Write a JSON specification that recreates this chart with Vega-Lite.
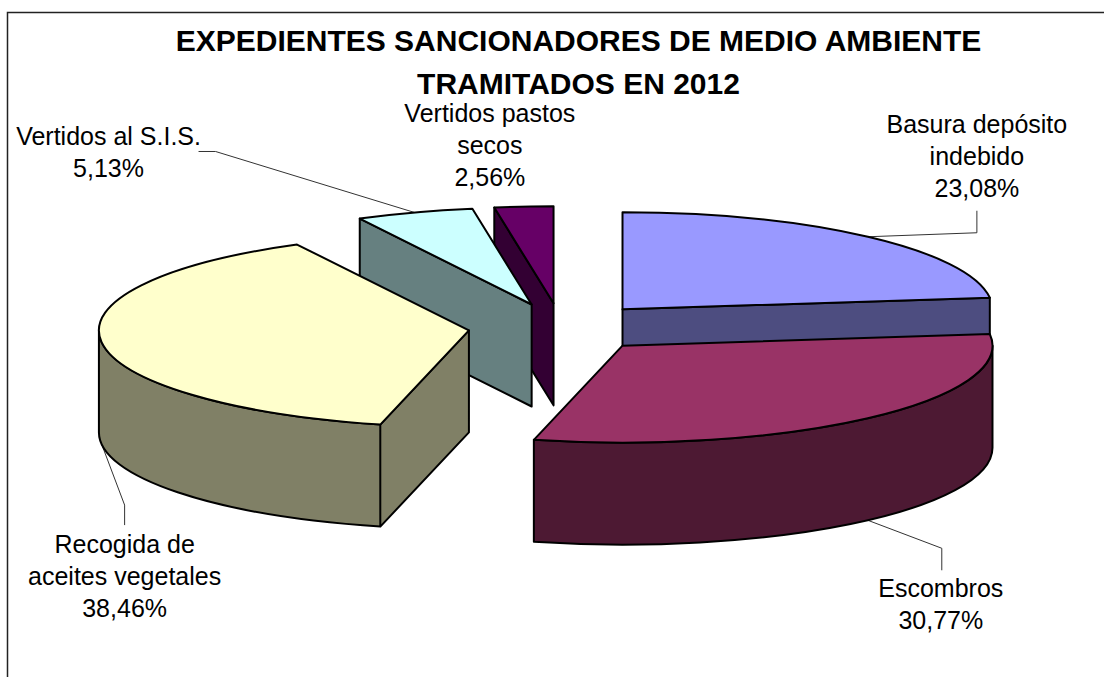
{
"$schema":"https://vega.github.io/schema/vega-lite/v6.json",
"autosize":{"type":"none"},
"padding":{"left":7.5,"top":12.5,"right":0,"bottom":0},
"width":1110,"height":680,
"background":"white",
"config":{"view":{"stroke":"#222222","strokeWidth":1.5,"fill":"white"},"font":"Liberation Sans"},
"title":{"text":["EXPEDIENTES SANCIONADORES DE MEDIO AMBIENTE","TRAMITADOS EN 2012"],"font":"Liberation Sans","fontSize":30,"fontWeight":"bold","color":"#000000","lineHeight":43,"anchor":"middle","frame":"group","dx":16,"dy":121,"baseline":"bottom"},
"data":{"values":[
{"category":"Basura depósito indebido","label":"Basura depósito\nindebido","value":23.08},
{"category":"Escombros","label":"Escombros","value":30.77},
{"category":"Recogida de aceites vegetales","label":"Recogida de\naceites vegetales","value":38.46},
{"category":"Vertidos al S.I.S.","label":"Vertidos al S.I.S.","value":5.13},
{"category":"Vertidos pastos secos","label":"Vertidos pastos\nsecos","value":2.56}
]},
"transform":[
{"joinaggregate":[{"op":"sum","field":"value","as":"total"}]},
{"stack":"value","groupby":[],"as":["s0","s1"]},
{"calculate":"datum.s0/datum.total*2*PI","as":"a"},
{"calculate":"datum.s1/datum.total*2*PI","as":"b"},
{"calculate":"(datum.a+datum.b)/2","as":"m"},
{"calculate":"round((-1.5+92.75*sin(datum.m))*100)/100","as":"ax"},
{"calculate":"round((-25-24.25*cos(datum.m))*100)/100","as":"ay"},
{"calculate":"round((datum.ax+370*sin(datum.a))*100)/100","as":"x0"},
{"calculate":"round((datum.ay-97*cos(datum.a))*100)/100","as":"y0"},
{"calculate":"round((datum.ax+370*sin(datum.b))*100)/100","as":"x1"},
{"calculate":"round((datum.ay-97*cos(datum.b))*100)/100","as":"y1"},
{"calculate":"max(datum.a,PI/2)","as":"t1"},
{"calculate":"min(datum.b,3*PI/2)","as":"t2"},
{"calculate":"round((datum.ax+370*sin(datum.t1))*100)/100","as":"x2"},
{"calculate":"round((datum.ay-97*cos(datum.t1))*100)/100","as":"y2"},
{"calculate":"round((datum.ax+370*sin(datum.t2))*100)/100","as":"x3"},
{"calculate":"round((datum.ay-97*cos(datum.t2))*100)/100","as":"y3"},
{"calculate":"'M'+datum.ax+','+datum.ay+'L'+datum.x0+','+datum.y0+'A370,97 0 '+(datum.b-datum.a>PI?1:0)+' 1 '+datum.x1+','+datum.y1+'Z'","as":"topPath"},
{"calculate":"(datum.t2>datum.t1?'M'+datum.x2+','+datum.y2+'A370,97 0 0 1 '+datum.x3+','+datum.y3+'L'+datum.x3+','+(datum.y3+102)+'A370,97 0 0 0 '+datum.x2+','+(datum.y2+102)+'Z':'')+(sin(datum.a)<-0.001?'M'+datum.ax+','+datum.ay+'L'+datum.x0+','+datum.y0+'L'+datum.x0+','+(datum.y0+102)+'L'+datum.ax+','+(datum.ay+102)+'Z':'')+(sin(datum.b)>0.001?'M'+datum.ax+','+datum.ay+'L'+datum.x1+','+datum.y1+'L'+datum.x1+','+(datum.y1+102)+'L'+datum.ax+','+(datum.ay+102)+'Z':'')","as":"wallPath"},
{"calculate":"{'Basura depósito indebido':2,'Escombros':4,'Recogida de aceites vegetales':3,'Vertidos al S.I.S.':1,'Vertidos pastos secos':0}[datum.category]","as":"draw"},
{"calculate":"{'Basura depósito indebido':[0,109,-4,109,-26,109,-112],'Escombros':[102,74,28,74,50,73,69],'Recogida de aceites vegetales':[102,23,61,23,81,23,101],'Vertidos al S.I.S.':[0,-199,-61,-216,-61,-306,-75],'Vertidos pastos secos':[0,0,0,0,0,-34,-93]}[datum.category]","as":"nudge"},
{"calculate":"round((datum.ax+370*sin(datum.m))*100)/100","as":"rx"},
{"calculate":"round((datum.ay-97*cos(datum.m)+datum.nudge[0])*100)/100","as":"ry"},
{"calculate":"'M'+datum.rx+','+datum.ry+'L'+(datum.rx+datum.nudge[1])+','+(datum.ry+datum.nudge[2])+'L'+(datum.rx+datum.nudge[3])+','+(datum.ry+datum.nudge[4])","as":"leaderPath"},
{"calculate":"datum.rx+datum.nudge[5]+555","as":"labelX"},
{"calculate":"datum.ry+datum.nudge[6]+340","as":"labelY"},
{"calculate":"datum.label+'\\n'+replace(format(datum.value,'.2f'),'.',',')+'%'","as":"labelText"}
],
"layer":[
{"transform":[{"filter":"datum.category!=='Vertidos pastos secos'"}],
 "mark":{"type":"point","filled":false,"size":4,"opacity":1,"stroke":"#333333","strokeWidth":1},
 "encoding":{"shape":{"field":"leaderPath","type":"nominal","scale":null,"legend":null}}},
{"mark":{"type":"point","filled":true,"size":4,"opacity":1,"stroke":"#000000","strokeWidth":2,"strokeJoin":"round"},
 "encoding":{
  "shape":{"field":"wallPath","type":"nominal","scale":null,"legend":null},
  "fill":{"field":"category","type":"nominal","legend":null,"scale":{"domain":["Basura depósito indebido","Escombros","Recogida de aceites vegetales","Vertidos al S.I.S.","Vertidos pastos secos"],"range":["#4D4D80","#4D1933","#808066","#668080","#330033"]}},
  "order":{"field":"draw","type":"quantitative"}}},
{"mark":{"type":"point","filled":true,"size":4,"opacity":1,"stroke":"#000000","strokeWidth":2,"strokeJoin":"round"},
 "encoding":{
  "shape":{"field":"topPath","type":"nominal","scale":null,"legend":null},
  "fill":{"field":"category","type":"nominal","legend":null,"scale":{"domain":["Basura depósito indebido","Escombros","Recogida de aceites vegetales","Vertidos al S.I.S.","Vertidos pastos secos"],"range":["#9999FF","#993366","#FFFFCC","#CCFFFF","#660066"]}},
  "order":{"field":"draw","type":"quantitative"}}},
{"mark":{"type":"text","font":"Liberation Sans","fontSize":25,"lineHeight":32,"align":"center","baseline":"middle","lineBreak":"\n","color":"#000000"},
 "encoding":{
  "x":{"field":"labelX","type":"quantitative","scale":null},
  "y":{"field":"labelY","type":"quantitative","scale":null},
  "text":{"field":"labelText"}}}
],
"resolve":{"scale":{"fill":"independent"}}
}
